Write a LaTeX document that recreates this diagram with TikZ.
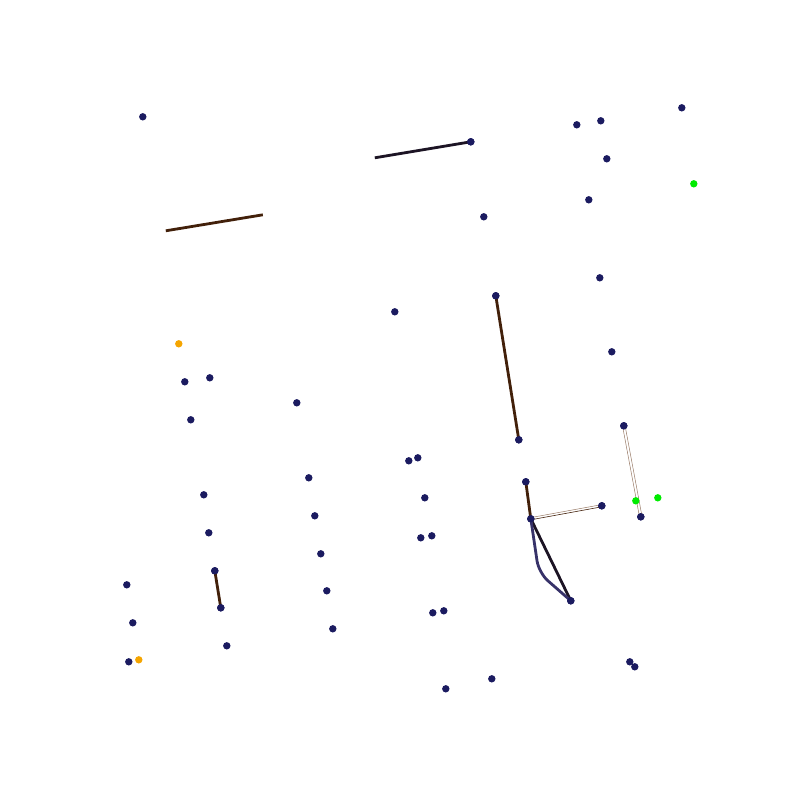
\documentclass[tikz,border=0pt]{standalone}
\usetikzlibrary{calc}
\definecolor{dotnavy}{RGB}{27,27,96}
\definecolor{dotorange}{RGB}{245,165,0}
\definecolor{dotgreen}{RGB}{0,235,0}
\definecolor{linebrown}{RGB}{66,32,10}
\definecolor{lineblack}{RGB}{28,20,36}
\definecolor{linepurple}{RGB}{55,50,105}
\definecolor{thinbrown}{RGB}{150,120,100}
\tikzset{
  x=1pt, y=-1pt,
  pt/.style={circle, fill=dotnavy, inner sep=0pt, minimum size=7.4pt},
  opt/.style={circle, fill=dotorange, inner sep=0pt, minimum size=7.4pt},
  gpt/.style={circle, fill=dotgreen, inner sep=0pt, minimum size=7.4pt},
  brownline/.style={draw=linebrown, line width=2.8pt},
  blackline/.style={draw=lineblack, line width=2.8pt},
  purpleline/.style={draw=linepurple, line width=2.8pt, rounded corners=12pt},
  thinline/.style={draw=thinbrown, line width=0.5pt},
}
\begin{document}
\begin{tikzpicture}
\useasboundingbox (-0.8,-0.8) rectangle (799.2,799.2);
% navy dots
\node[pt] (n1) at (142,116) {};
\node[pt] (n2) at (576,124) {};
\node[pt] (n3) at (600,120) {};
\node[pt] (n4) at (681,107) {};
\node[pt] (n5) at (606,158) {};
\node[pt] (n6) at (470,141) {};
\node[pt] (n7) at (588,199) {};
\node[pt] (n8) at (483,216) {};
\node[pt] (n9) at (599,277) {};
\node[pt] (n10) at (495,295) {};
\node[pt] (n11) at (394,311) {};
\node[pt] (n12) at (611,351) {};
\node[pt] (n13) at (184,381) {};
\node[pt] (n14) at (209,377) {};
\node[pt] (n15) at (190,419) {};
\node[pt] (n16) at (296,402) {};
\node[pt] (n17) at (623,425) {};
\node[pt] (n18) at (518,439) {};
\node[pt] (n19) at (408,460) {};
\node[pt] (n20) at (417,457) {};
\node[pt] (n21) at (308,477) {};
\node[pt] (n22) at (424,497) {};
\node[pt] (n23) at (525,481) {};
\node[pt] (n24) at (203,494) {};
\node[pt] (n25) at (314,515) {};
\node[pt] (n26) at (530,518) {};
\node[pt] (n27) at (601,505) {};
\node[pt] (n28) at (640,516) {};
\node[pt] (n29) at (208,532) {};
\node[pt] (n30) at (420,537) {};
\node[pt] (n31) at (431,535) {};
\node[pt] (n32) at (320,553) {};
\node[pt] (n33) at (214,570) {};
\node[pt] (n34) at (570,600) {};
\node[pt] (n35) at (126,584) {};
\node[pt] (n36) at (326,590) {};
\node[pt] (n37) at (220,607) {};
\node[pt] (n38) at (432,612) {};
\node[pt] (n39) at (443,610) {};
\node[pt] (n40) at (132,622) {};
\node[pt] (n41) at (332,628) {};
\node[pt] (n42) at (226,645) {};
\node[pt] (n43) at (128,661) {};
\node[pt] (n44) at (629,661) {};
\node[pt] (n45) at (634,666) {};
\node[pt] (n46) at (445,688) {};
\node[pt] (n47) at (491,678) {};
% orange dots
\node[opt] (o1) at (178,343) {};
\node[opt] (o2) at (138,659) {};
% green dots
\node[gpt] (g1) at (693,183) {};
% free ends
\coordinate (f1) at (165,230);
\coordinate (f2) at (262,214);
\coordinate (f3) at (374,157);
\coordinate (bend) at (538,572);
% connectors
\path[brownline] (f1) -- (f2);
\path[blackline] (f3) -- (n6.center);
\path[brownline] (n10.center) -- (n18.center);
\path[brownline] (n23.center) -- (n26.center);
\path[brownline] (n33.center) -- (n37.center);
\path[blackline] (n26.center) -- (n34.center);
\path[purpleline] (n26.center) -- (bend) -- (n34.center);
\path[thinline] ([xshift=-1.3pt]n17.center) -- ([xshift=-1.3pt]n28.center);
\path[thinline] ([xshift=1.3pt]n17.center) -- ([xshift=1.3pt]n28.center);
\path[draw=linebrown, line width=0.6pt] ([yshift=-1pt]n26.center) -- ([yshift=-1pt]n27.center);
\path[thinline] ([yshift=1.2pt]n26.center) -- ([yshift=1.2pt]n27.center);
% redraw endpoint dots on top
\foreach \n in {n6,n10,n18,n23,n26,n33,n37,n34,n17,n28,n27}
  \fill[dotnavy] (\n.center) circle[radius=3.7pt];
\node[gpt] (g2) at (635,500) {};
\node[gpt] (g3) at (657,497) {};
\end{tikzpicture}
\end{document}
